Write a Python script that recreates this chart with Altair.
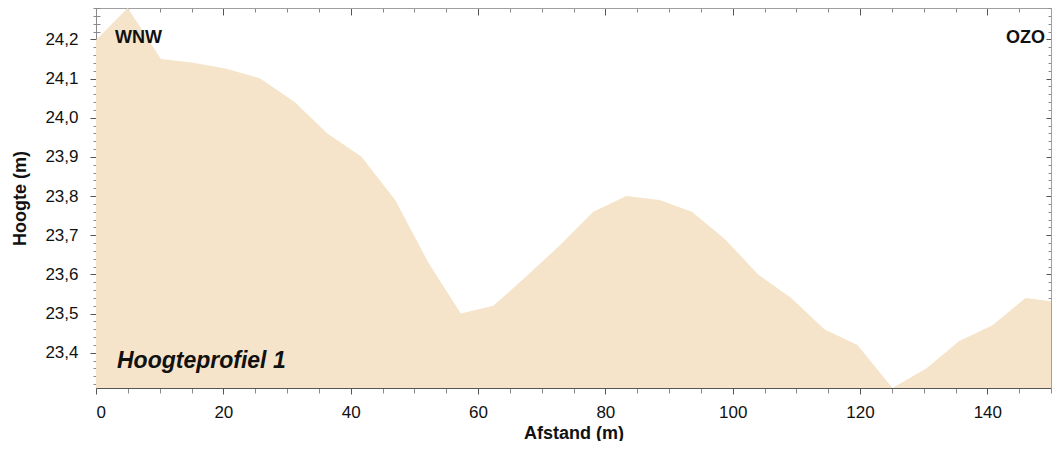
import altair as alt
import pandas as pd

# Distance along the profile (m) and height (m)
afstand = [0, 5, 10.2, 15.3, 20.5, 25.8, 31.2, 36.3, 41.7, 47.0, 52.2, 57.3, 62.4,
           67.6, 72.9, 78.1, 83.3, 88.5, 93.6, 98.8, 104.0, 109.2, 114.4, 119.6,
           125.1, 130.4, 135.6, 140.8, 146.0, 150.6]
hoogte = [24.198, 24.28, 24.15, 24.14, 24.125, 24.10, 24.04, 23.96, 23.90, 23.79,
          23.63, 23.50, 23.52, 23.595, 23.675, 23.76, 23.80, 23.79, 23.76, 23.69,
          23.60, 23.54, 23.46, 23.42, 23.31, 23.36, 23.43, 23.47, 23.54, 23.53]

x_ticks = list(range(0, 151, 5))
y_ticks = [round(23.32 + 0.02 * i, 2) for i in range(49)]

x_domain = [0, 150]
y_domain = [23.31, 24.28]

labels_dir = ["WNW", "OZO"]
profile_title = "Hoogteprofiel 1"

FONT = "Liberation Sans"
FILL = "#F5E4C9"
MAJOR = "#555555"
MINOR = "#8a8a8a"

df = pd.DataFrame({"d": afstand, "h": hoogte})

xs = alt.Scale(domain=x_domain, nice=False, zero=False)
ys = alt.Scale(domain=y_domain, nice=False, zero=False)

XMAJ = "datum.value % 20 === 0"
YMAJ = "abs(datum.value * 10 - round(datum.value * 10)) < 0.001"


def xsize(major, minor):
    return {"expr": f"({XMAJ}) ? {major} : {minor}"}


def ysize(major, minor):
    return {"expr": f"({YMAJ}) ? {major} : {minor}"}


xcol = {"condition": {"test": XMAJ, "value": MAJOR}, "value": MINOR}
ycol = {"condition": {"test": YMAJ, "value": MAJOR}, "value": MINOR}

# main area with bottom / left axes (outward ticks, labels, titles)
area = alt.Chart(df).mark_area(color=FILL, clip=True).encode(
    x=alt.X("d:Q", scale=xs, axis=alt.Axis(
        orient="bottom", values=x_ticks, title="Afstand (m)",
        labelExpr=f"({XMAJ}) ? datum.label : ''", labelOverlap=False,
        labelFont=FONT, labelFontSize=17, labelColor="#111", labelPadding=10,
        titleFont=FONT, titleFontSize=18, titleFontWeight="bold", titleColor="#111",
        titleY=45, titleBaseline="middle",
        tickSize=xsize(6, 5), tickColor=xcol, domainColor=MAJOR, grid=False,
    )),
    y=alt.Y("h:Q", scale=ys, axis=alt.Axis(
        orient="left", values=y_ticks, title="Hoogte (m)",
        labelExpr=f"({YMAJ}) ? replace(format(datum.value, '.1f'), '.', ',') : ''",
        labelOverlap=False, labelFont=FONT, labelFontSize=17, labelColor="#111",
        labelPadding=12,
        titleFont=FONT, titleFontSize=18, titleFontWeight="bold", titleColor="#111",
        titleX=-76, titleBaseline="middle",
        tickSize=ysize(6, 3), tickColor=ycol, domainColor=MINOR, grid=False,
    )),
)

# top / right axes (inward ticks)
frame1 = alt.Chart(df).mark_line(opacity=0).encode(
    x=alt.X("d:Q", scale=xs, axis=alt.Axis(
        orient="top", values=x_ticks, labels=False, title=None,
        tickSize=xsize(-7, -4), tickColor=xcol, domainColor="#a0a0a0", grid=False,
    )),
    y=alt.Y("h:Q", scale=ys, axis=alt.Axis(
        orient="right", values=y_ticks, labels=False, title=None,
        tickSize=ysize(-5, -3), tickColor=ycol, domainColor="#a0a0a0", grid=False,
    )),
)

# inward parts of bottom / left ticks
frame2 = alt.Chart(df).mark_line(opacity=0).encode(
    x=alt.X("d:Q", scale=xs, axis=alt.Axis(
        orient="bottom", values=x_ticks, labels=False, title=None, domain=False,
        tickSize=xsize(-5, 0), tickColor=xcol, grid=False,
    )),
    y=alt.Y("h:Q", scale=ys, axis=alt.Axis(
        orient="left", values=y_ticks, labels=False, title=None, domain=False,
        tickSize=ysize(-5, -4), tickColor=ycol, grid=False,
    )),
)

txt_wnw = alt.Chart(pd.DataFrame({"t": [labels_dir[0]]})).mark_text(
    font=FONT, fontSize=18, fontWeight="bold", align="left", baseline="alphabetic",
    color="#111").encode(text="t:N", x=alt.value(19), y=alt.value(34.5))

txt_ozo = alt.Chart(pd.DataFrame({"t": [labels_dir[1]]})).mark_text(
    font=FONT, fontSize=18, fontWeight="bold", align="right", baseline="alphabetic",
    color="#111").encode(text="t:N", x=alt.value(949), y=alt.value(34.5))

txt_title = alt.Chart(pd.DataFrame({"t": [profile_title]})).mark_text(
    font=FONT, fontSize=23, fontWeight="bold", fontStyle="italic", align="left",
    baseline="alphabetic", color="#111").encode(text="t:N", x=alt.value(21), y=alt.value(360))

chart = alt.layer(area, frame1, frame2, txt_wnw, txt_ozo, txt_title).resolve_axis(
    x="independent", y="independent"
).properties(
    width=955, height=380,
    autosize=alt.AutoSizeParams(type="none"),
    padding={"left": 88, "top": 0, "right": 1, "bottom": 53},
).configure_view(stroke=None).configure(background="white")

chart.save("out.html", embed_options={"renderer": "svg", "actions": False})
